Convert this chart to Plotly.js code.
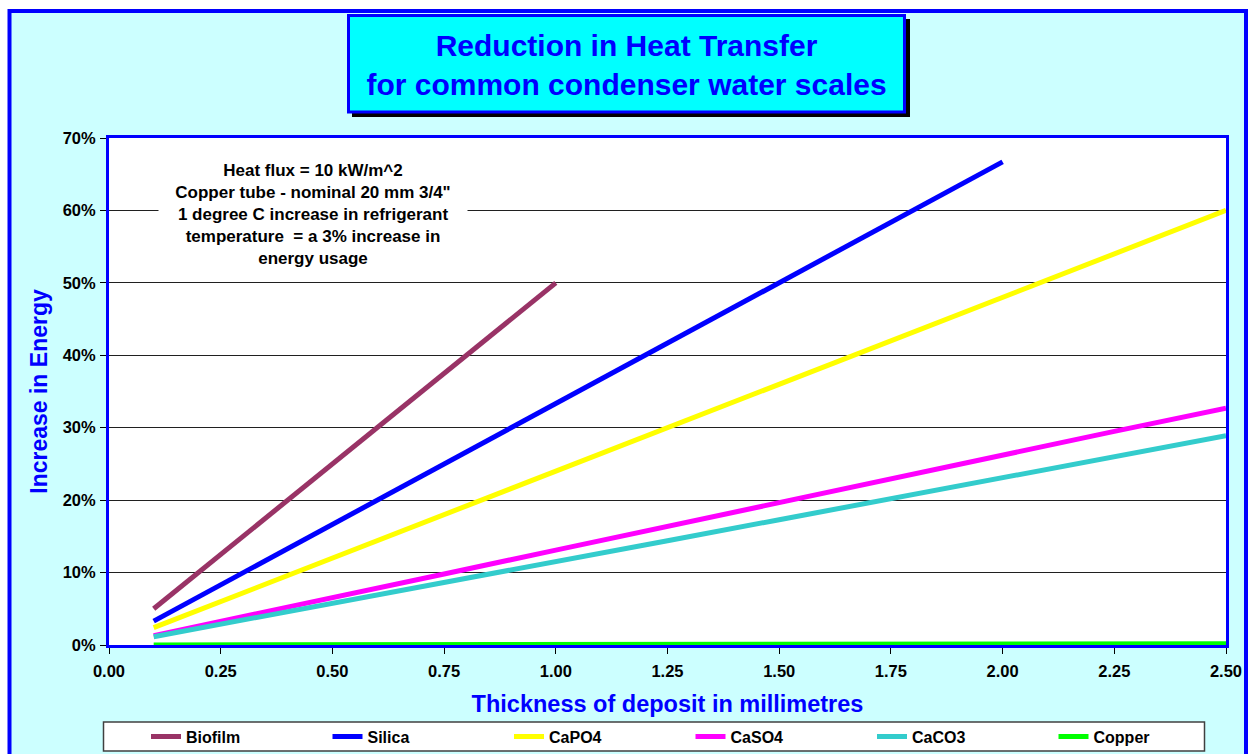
<!DOCTYPE html>
<html>
<head>
<meta charset="utf-8">
<script src="https://cdn.plot.ly/plotly-3.0.1.min.js"></script>
<style>
  html, body { margin: 0; padding: 0; background: #ffffff; }
  #chart { width: 1248px; height: 754px; }
</style>
</head>
<body>
<div id="chart"></div>
<script>
// ---- data ----
const seriesNames = ["Biofilm", "Silica", "CaPO4", "CaSO4", "CaCO3", "Copper"];
const seriesColors = ["#993366", "#0000FF", "#FFFF00", "#FF00FF", "#33CCCC", "#00FF00"];

const biofilmX = [0.10, 0.25, 0.50, 0.75, 1.00];
const biofilmY = [5.0, 12.5, 25.0, 37.5, 50.0];

const silicaX = [0.10, 0.25, 0.50, 0.75, 1.00, 1.25, 1.50, 1.75, 2.00];
const silicaY = [3.3, 8.3, 16.7, 25.0, 33.3, 41.7, 50.0, 58.3, 66.7];

const longX = [0.10, 0.25, 0.50, 0.75, 1.00, 1.25, 1.50, 1.75, 2.00, 2.25, 2.50];
const capo4Y = [2.4, 6.0, 12.0, 18.0, 24.0, 30.0, 36.0, 42.0, 48.0, 54.0, 60.0];
const caso4Y = [1.3, 3.3, 6.5, 9.8, 13.1, 16.4, 19.6, 22.9, 26.2, 29.5, 32.7];
const caco3Y = [1.15, 2.9, 5.8, 8.7, 11.6, 14.4, 17.3, 20.2, 23.1, 26.0, 28.9];
const copperY = [0.007, 0.018, 0.035, 0.053, 0.07, 0.088, 0.105, 0.123, 0.14, 0.158, 0.175];

const xTickVals = [0, 0.25, 0.5, 0.75, 1.0, 1.25, 1.5, 1.75, 2.0, 2.25, 2.5];
const xTickText = ["0.00", "0.25", "0.50", "0.75", "1.00", "1.25", "1.50", "1.75", "2.00", "2.25", "2.50"];
const yTickVals = [0, 10, 20, 30, 40, 50, 60, 70];
const yTickText = ["0%", "10%", "20%", "30%", "40%", "50%", "60%", "70%"];

const chartTitle = "Reduction in Heat Transfer<br>for common condenser water scales";
const xTitle = "Thickness of deposit in millimetres";
const yTitle = "Increase in Energy";
const noteText = "Heat flux = 10 kW/m^2<br>Copper tube - nominal 20 mm 3/4\"<br>1 degree C increase in refrigerant<br>temperature  = a 3% increase in<br>energy usage";

// ---- helpers: pixel -> paper coordinates for decoration ----
const PL = 109, PR = 1226, PT = 138, PB = 645, W = 1248, H = 754;
const px = v => (v - PL) / (PR - PL);
const py = v => (PB - v) / (PB - PT);

const xs = [biofilmX, silicaX, longX, longX, longX, longX];
const ys = [biofilmY, silicaY, capo4Y, caso4Y, caco3Y, copperY];

const FONT = "Liberation Sans, Arial, Helvetica, sans-serif";
const bold = arr => arr.map(s => "<b>" + s + "</b>");

const traces = seriesNames.map((name, i) => ({
  type: "scatter",
  mode: "lines",
  name: "<b>" + name + "</b>",
  x: xs[i],
  y: ys[i],
  line: { color: seriesColors[i], width: 5 },
  cliponaxis: false,
  hoverinfo: "x+y"
}));

const layout = {
  width: W,
  height: H,
  margin: { l: PL, r: W - PR, t: PT, b: H - PB, pad: 0, autoexpand: false },
  paper_bgcolor: "#ffffff",
  plot_bgcolor: "rgba(0,0,0,0)",
  font: { family: FONT, color: "#000000" },
  title: {
    text: "<b>" + chartTitle + "</b>",
    font: { family: FONT, size: 30, color: "#0000FF" },
    xref: "container", yref: "container",
    x: 626.5 / W, xanchor: "center",
    y: 1 - 56 / H, yanchor: "middle"
  },
  xaxis: {
    range: [0, 2.5],
    tickmode: "array",
    tickvals: xTickVals,
    ticktext: bold(xTickText),
    ticks: "outside", ticklen: 6, tickwidth: 1, tickcolor: "#000000",
    ticklabelstandoff: 3,
    tickfont: { family: FONT, size: 16.5, color: "#000000" },
    showline: true, linecolor: "#0000FF", linewidth: 3, mirror: true,
    showgrid: false, zeroline: false,
    layer: "below traces",
    title: {
      text: "<b>" + xTitle + "</b>",
      font: { family: FONT, size: 23.5, color: "#0000FF" },
      standoff: 17
    }
  },
  yaxis: {
    range: [0, 70],
    tickmode: "array",
    tickvals: yTickVals,
    ticktext: bold(yTickText),
    ticks: "outside", ticklen: 6, tickwidth: 1, tickcolor: "#000000",
    ticklabelstandoff: 1,
    tickfont: { family: FONT, size: 16.5, color: "#000000" },
    showline: true, linecolor: "#0000FF", linewidth: 3, mirror: true,
    showgrid: true, gridcolor: "#202020", gridwidth: 1,
    zeroline: false,
    layer: "below traces",
    title: {
      text: "<b>" + yTitle + "</b>",
      font: { family: FONT, size: 23, color: "#0000FF" },
      standoff: 9
    }
  },
  showlegend: true,
  legend: {
    orientation: "h",
    xref: "container", yref: "container",
    x: 146 / W, xanchor: "left",
    y: 1 - 736.5 / H, yanchor: "middle",
    bgcolor: "rgba(0,0,0,0)",
    borderwidth: 0,
    font: { family: FONT, size: 16, color: "#000000" },
    entrywidth: 136.5, entrywidthmode: "pixels",
    traceorder: "normal",
    itemclick: false, itemdoubleclick: false
  },
  annotations: [{
    xref: "paper", yref: "paper",
    x: px(313), y: py(214), xanchor: "center", yanchor: "middle",
    text: "<b>" + noteText + "</b>",
    showarrow: false,
    align: "center",
    font: { family: FONT, size: 17, color: "#000000" },
    bgcolor: "#ffffff",
    width: 300,
    borderpad: 4
  }],
  shapes: [
    // outer light-cyan chart area with blue frame
    { type: "rect", xref: "paper", yref: "paper", layer: "below",
      x0: px(9.5), x1: px(1246), y0: py(11), y1: py(775),
      fillcolor: "#CCFFFF", line: { color: "#0000FF", width: 4 } },
    // white plot area
    { type: "rect", xref: "paper", yref: "paper", layer: "below",
      x0: 0, x1: 1, y0: 0, y1: 1,
      fillcolor: "#ffffff", line: { width: 0 } },
    // title box shadow
    { type: "rect", xref: "paper", yref: "paper", layer: "below",
      x0: px(352), x1: px(910), y0: py(19), y1: py(117),
      fillcolor: "#000000", line: { width: 0 } },
    // title box
    { type: "rect", xref: "paper", yref: "paper", layer: "below",
      x0: px(348.5), x1: px(904.5), y0: py(15.5), y1: py(112),
      fillcolor: "#00FFFF", line: { color: "#0000FF", width: 3 } },
    // legend box
    { type: "rect", xref: "paper", yref: "paper", layer: "below",
      x0: px(103.5), x1: px(1204.5), y0: py(722), y1: py(751),
      fillcolor: "#ffffff", line: { color: "#404040", width: 1.5 } }
  ]
};

Plotly.newPlot("chart", traces, layout, { displayModeBar: false });
</script>
</body>
</html>
